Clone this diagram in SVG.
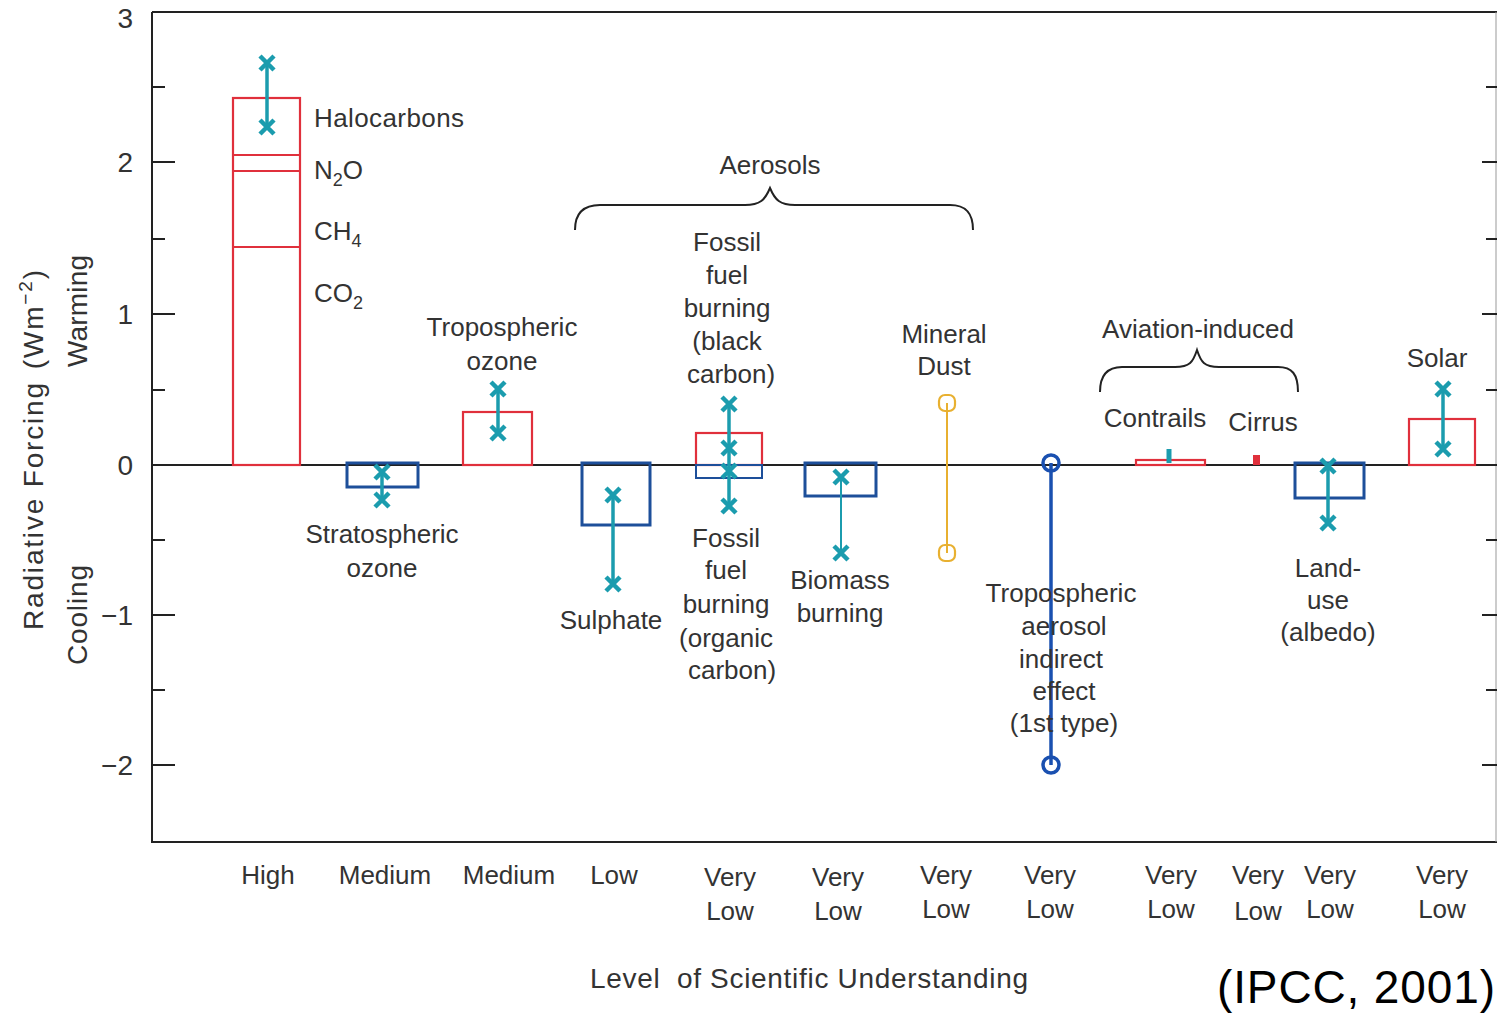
<svg xmlns="http://www.w3.org/2000/svg" xmlns:xlink="http://www.w3.org/1999/xlink" width="1497" height="1014" viewBox="0 0 1497 1014">
<style>
text{font-family:"Liberation Sans",Arial,sans-serif;fill:#333;font-size:26px}
.c{text-anchor:middle}
.e{text-anchor:end}
.tick{font-size:28px}
.frame{stroke:#222;stroke-width:2;fill:none}
.tk{stroke:#222;stroke-width:2}
.rb{fill:none;stroke:#e0303c;stroke-width:2.2}
.bb{fill:none;stroke:#1d4f9a;stroke-width:3}
.eb{stroke:#1b9cae;stroke-width:3.5;fill:none}
.xm{stroke:#1b9cae;stroke-width:4.5;fill:none;stroke-linecap:butt}
.brace{fill:none;stroke:#222;stroke-width:2}
</style>
<defs>
<path id="xm" d="M-7,-7L7,7M-7,7L7,-7"/>
</defs>
<rect width="1497" height="1014" fill="#fff"/>

<g id="axes">
<path class="frame" d="M152,12V842H1497M152,12H1497"/>
<line x1="1496" y1="12" x2="1496" y2="842" stroke="#999" stroke-width="1"/>
<line x1="152" y1="465" x2="1497" y2="465" stroke="#222" stroke-width="1.8"/>
<path class="tk" d="M152,162H175M152,314H175M152,615H175M152,765H175M152,87H165M152,239H165M152,390H165M152,540H165M152,690H165"/>
<path class="tk" d="M1482,162H1497M1482,314H1497M1482,615H1497M1482,765H1497M1486,87H1497M1486,239H1497M1486,390H1497M1486,540H1497M1486,690H1497"/>
<text class="tick e" x="133" y="28">3</text>
<text class="tick e" x="133" y="172">2</text>
<text class="tick e" x="133" y="324">1</text>
<text class="tick e" x="133" y="475">0</text>
<text class="tick e" x="133" y="625">−1</text>
<text class="tick e" x="133" y="775">−2</text>
<text class="c" transform="translate(43,450) rotate(-90)" textLength="360" style="font-size:28px">Radiative Forcing<tspan dx="12">(Wm</tspan><tspan font-size="19" dy="-11">−2</tspan><tspan dy="11">)</tspan></text>
<text class="c" transform="translate(87,311) rotate(-90)" textLength="112" style="font-size:28px">Warming</text>
<text class="c" transform="translate(87,615) rotate(-90)" textLength="100" style="font-size:28px">Cooling</text>
</g>

<g id="connectors">
<path class="brace" d="M575,230C575,212 585,205 600,205L745,205C760,205 765,200 770,188C775,200 780,205 795,205L950,205C965,205 973,212 973,230"/>
<path class="brace" d="M1100,392C1100,374 1108,367 1122,367L1175,367C1190,367 1193,362 1197,350C1201,362 1204,367 1219,367L1278,367C1292,367 1298,374 1298,392"/>
</g>

<g id="labels-groups">
<text class="c" x="770" y="174">Aerosols</text>
<text class="c" x="1198" y="338">Aviation-induced</text>
</g>

<g id="ghg">
<rect class="rb" x="233" y="98" width="67" height="367"/>
<path class="rb" d="M233,155H300M233,171H300M233,247H300"/>
<line class="eb" x1="267" y1="63" x2="267" y2="127"/>
<use href="#xm" class="xm" x="267" y="63"/>
<use href="#xm" class="xm" x="267" y="127"/>
<text x="314" y="127" textLength="150">Halocarbons</text>
<text x="314" y="179">N<tspan font-size="18" dy="7">2</tspan><tspan dy="-7">O</tspan></text>
<text x="314" y="240">CH<tspan font-size="18" dy="7">4</tspan></text>
<text x="314" y="302">CO<tspan font-size="18" dy="7">2</tspan></text>
</g>

<g id="strat-ozone">
<rect class="bb" x="347" y="463" width="71" height="24"/>
<line class="eb" x1="382" y1="470" x2="382" y2="500"/>
<use href="#xm" class="xm" x="382" y="472"/>
<use href="#xm" class="xm" x="382" y="500"/>
<text class="c" x="382" y="543">Stratospheric</text>
<text class="c" x="382" y="577">ozone</text>
</g>

<g id="trop-ozone">
<rect class="rb" x="463" y="412" width="69" height="53"/>
<line class="eb" x1="498" y1="388" x2="498" y2="433"/>
<use href="#xm" class="xm" x="498" y="389"/>
<use href="#xm" class="xm" x="498" y="433"/>
<text class="c" x="502" y="336">Tropospheric</text>
<text class="c" x="502" y="370">ozone</text>
</g>

<g id="sulphate">
<rect class="bb" x="582" y="463" width="68" height="62"/>
<line class="eb" x1="613" y1="495" x2="613" y2="584"/>
<use href="#xm" class="xm" x="613" y="495"/>
<use href="#xm" class="xm" x="613" y="584"/>
<text class="c" x="611" y="629">Sulphate</text>
</g>

<g id="fossil-fuel">
<rect class="rb" x="696" y="433" width="66" height="32"/>
<rect fill="none" stroke="#1d4f9a" stroke-width="2" x="696" y="465" width="66" height="13"/>
<line class="eb" x1="729" y1="404" x2="729" y2="506"/>
<use href="#xm" class="xm" x="729" y="404"/>
<use href="#xm" class="xm" x="729" y="448"/>
<use href="#xm" class="xm" x="729" y="471"/>
<use href="#xm" class="xm" x="729" y="506"/>
<text class="c" x="727" y="251">Fossil</text>
<text class="c" x="727" y="284">fuel</text>
<text class="c" x="727" y="317">burning</text>
<text class="c" x="727" y="350">(black</text>
<text class="c" x="731" y="383">carbon)</text>
<text class="c" x="726" y="547">Fossil</text>
<text class="c" x="726" y="579">fuel</text>
<text class="c" x="726" y="613">burning</text>
<text class="c" x="726" y="647">(organic</text>
<text class="c" x="732" y="679">carbon)</text>
</g>

<g id="biomass">
<rect class="bb" x="805" y="463" width="71" height="33"/>
<line stroke="#1b9cae" stroke-width="2" x1="841" y1="476" x2="841" y2="553"/>
<use href="#xm" class="xm" x="841" y="477"/>
<use href="#xm" class="xm" x="841" y="553"/>
<text class="c" x="840" y="589">Biomass</text>
<text class="c" x="840" y="622">burning</text>
</g>

<g id="mineral-dust">
<line stroke="#e8b030" stroke-width="2" x1="947" y1="403" x2="947" y2="553"/>
<rect fill="#fff" fill-opacity="0" stroke="#e8b030" stroke-width="2.2" x="939" y="395" width="16" height="16" rx="6"/>
<rect fill="#fff" fill-opacity="0" stroke="#e8b030" stroke-width="2.2" x="939" y="545" width="16" height="16" rx="6"/>
<text class="c" x="944" y="343">Mineral</text>
<text class="c" x="944" y="375">Dust</text>
</g>

<g id="indirect-effect">
<line stroke="#1a50b0" stroke-width="3.5" x1="1051" y1="463" x2="1051" y2="765"/>
<circle fill="none" stroke="#1a50b0" stroke-width="3.5" cx="1051" cy="463" r="8"/>
<circle fill="none" stroke="#1a50b0" stroke-width="3.5" cx="1051" cy="765" r="8"/>
<text class="c" x="1061" y="602">Tropospheric</text>
<text class="c" x="1064" y="635">aerosol</text>
<text class="c" x="1061" y="668">indirect</text>
<text class="c" x="1064" y="700">effect</text>
<text class="c" x="1064" y="732">(1st type)</text>
</g>

<g id="contrails">
<rect class="rb" x="1136" y="460" width="69" height="5"/>
<line stroke="#1b9cae" stroke-width="5" x1="1169" y1="449" x2="1169" y2="463"/>
<text class="c" x="1155" y="427">Contrails</text>
</g>

<g id="cirrus">
<rect fill="#e0303c" x="1253" y="455" width="7" height="10"/>
<text class="c" x="1263" y="431">Cirrus</text>
</g>

<g id="land-use">
<rect class="bb" x="1295" y="463" width="69" height="35"/>
<line class="eb" x1="1328" y1="465" x2="1328" y2="524"/>
<use href="#xm" class="xm" x="1328" y="466"/>
<use href="#xm" class="xm" x="1328" y="523"/>
<text class="c" x="1328" y="577">Land-</text>
<text class="c" x="1328" y="609">use</text>
<text class="c" x="1328" y="641">(albedo)</text>
</g>

<g id="solar">
<rect class="rb" x="1409" y="419" width="66" height="46"/>
<line class="eb" x1="1443" y1="388" x2="1443" y2="450"/>
<use href="#xm" class="xm" x="1443" y="389"/>
<use href="#xm" class="xm" x="1443" y="449"/>
<text class="c" x="1437" y="367">Solar</text>
</g>

<g id="losu">
<text class="c" x="268" y="884">High</text>
<text class="c" x="385" y="884">Medium</text>
<text class="c" x="509" y="884">Medium</text>
<text class="c" x="614" y="884">Low</text>
<text class="c" x="730" y="886">Very</text><text class="c" x="730" y="920">Low</text>
<text class="c" x="838" y="886">Very</text><text class="c" x="838" y="920">Low</text>
<text class="c" x="946" y="884">Very</text><text class="c" x="946" y="918">Low</text>
<text class="c" x="1050" y="884">Very</text><text class="c" x="1050" y="918">Low</text>
<text class="c" x="1171" y="884">Very</text><text class="c" x="1171" y="918">Low</text>
<text class="c" x="1258" y="884">Very</text><text class="c" x="1258" y="920">Low</text>
<text class="c" x="1330" y="884">Very</text><text class="c" x="1330" y="918">Low</text>
<text class="c" x="1442" y="884">Very</text><text class="c" x="1442" y="918">Low</text>
<text class="c" x="809" y="988" textLength="438" style="font-size:28px">Level <tspan dx="8">of Scientific Understanding</tspan></text>
</g>

<g id="source">
<text class="e" x="1495" y="1003" textLength="278" style="font-size:46px;fill:#000">(IPCC, 2001)</text>
</g>
</svg>
